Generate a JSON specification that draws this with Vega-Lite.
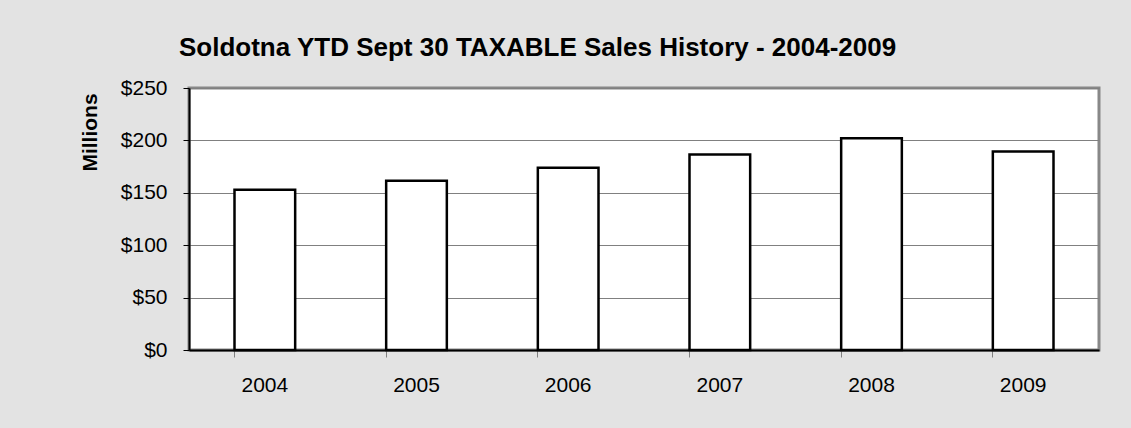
{
  "$schema": "https://vega.github.io/schema/vega-lite/v6.json",
  "width": 910,
  "height": 262,
  "autosize": {"type": "none"},
  "padding": {"left": 189, "top": 88, "right": 32, "bottom": 78},
  "background": "#e3e3e3",
  "title": {
    "text": "Soldotna YTD Sept 30 TAXABLE Sales History - 2004-2009",
    "anchor": "start",
    "frame": "group",
    "dx": -10,
    "fontSize": 26,
    "fontWeight": "bold",
    "font": "Liberation Sans",
    "color": "#000000",
    "baseline": "alphabetic",
    "offset": -5
  },
  "data": {
    "values": [
      {"year": "2004", "sales": 153},
      {"year": "2005", "sales": 161.5},
      {"year": "2006", "sales": 174},
      {"year": "2007", "sales": 186.5},
      {"year": "2008", "sales": 202},
      {"year": "2009", "sales": 189.5}
    ]
  },
  "mark": {"type": "bar", "fill": "#ffffff", "stroke": "#000000", "strokeWidth": 2.5},
  "encoding": {
    "x": {
      "field": "year",
      "type": "nominal",
      "scale": {"paddingInner": 0.6, "paddingOuter": 0.3},
      "axis": {
        "title": null,
        "labelAngle": 0,
        "labelFont": "Liberation Sans",
        "labelFontSize": 21,
        "labelColor": "#000000",
        "labelPadding": 17,
        "domainColor": "#000000",
        "domainWidth": 2,
        "tickColor": "#808080",
        "tickSize": 7,
        "tickWidth": 1,
        "bandPosition": 0,
        "grid": false
      }
    },
    "y": {
      "field": "sales",
      "type": "quantitative",
      "scale": {"domain": [0, 250], "nice": false},
      "axis": {
        "title": "Millions",
        "titleFont": "Liberation Sans",
        "titleFontSize": 21,
        "titleFontWeight": "bold",
        "titleColor": "#000000",
        "titlePadding": 20,
        "titleY": 44,
        "values": [0, 50, 100, 150, 200, 250],
        "format": "$,.0f",
        "labelFont": "Liberation Sans",
        "labelFontSize": 21,
        "labelColor": "#000000",
        "labelPadding": 16,
        "domainColor": "#000000",
        "domainWidth": 2,
        "tickColor": "#000000",
        "tickSize": 6,
        "grid": true,
        "gridColor": "#808080",
        "gridWidth": 1
      }
    }
  },
  "config": {
    "view": {"fill": "#ffffff", "stroke": "#888888", "strokeWidth": 3}
  }
}
